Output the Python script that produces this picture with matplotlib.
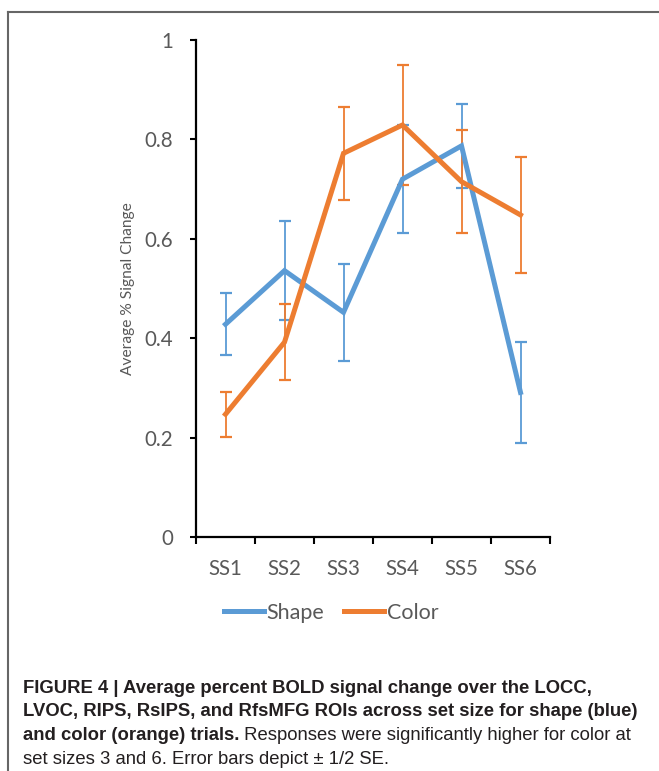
import matplotlib
matplotlib.use("Agg")
import matplotlib.pyplot as plt
from matplotlib.lines import Line2D
import numpy as np

# ---------------------------#
# Data
# ---------------------------#
set_sizes = ["SS1", "SS2", "SS3", "SS4", "SS5", "SS6"]

shape_mean = [0.428, 0.536, 0.452, 0.720, 0.787, 0.291]
shape_err = [0.062, 0.100, 0.097, 0.108, 0.085, 0.101]

color_mean = [0.247, 0.392, 0.772, 0.829, 0.715, 0.648]
color_err = [0.045, 0.077, 0.094, 0.120, 0.103, 0.117]

y_ticks = [0, 0.2, 0.4, 0.6, 0.8, 1]
y_tick_labels = ["0", "0.2", "0.4", "0.6", "0.8", "1"]

BLUE = "#5B9BD5"
ORANGE = "#ED7D31"
GREY_TEXT = "#595959"
CAP_TEXT = "#231f20"

W, H = 659, 771
fig = plt.figure(figsize=(W / 100, H / 100), dpi=100)

# axes placed in pixel terms of the reference
ax = fig.add_axes([196 / W, 1 - 537 / H, 354 / W, 497 / H])

x = np.arange(len(set_sizes))
for mean, err, col, name in [(shape_mean, shape_err, BLUE, "Shape"),
                             (color_mean, color_err, ORANGE, "Color")]:
    ax.errorbar(x, mean, yerr=err, fmt="none", ecolor=col, elinewidth=1.3,
                capsize=4.3, capthick=1.6, zorder=2)
    ax.plot(x, mean, color=col, lw=3.6, solid_joinstyle="miter", label=name, zorder=3)

ax.set_xlim(-0.5, len(set_sizes) - 0.5)
ax.set_ylim(0, 1)

ax.set_yticks(y_ticks)
ax.set_yticklabels(y_tick_labels)
ax.set_xticks(x)
ax.set_xticklabels(set_sizes)
# tick marks sit on category boundaries
ax.set_xticks(np.arange(-0.5, len(set_sizes)), minor=True)
ax.tick_params(axis="x", which="major", length=0, pad=16)
ax.tick_params(axis="x", which="minor", length=5, width=1.5, direction="out", color="black")
ax.tick_params(axis="y", length=4.5, width=1.5, direction="out", color="black", pad=12)

for lab in ax.get_xticklabels() + ax.get_yticklabels():
    lab.set_fontfamily("Lato")
    lab.set_fontsize(14.8)
    lab.set_color(GREY_TEXT)

for side in ["top", "right"]:
    ax.spines[side].set_visible(False)
for side in ["left", "bottom"]:
    ax.spines[side].set_linewidth(1.6)
    ax.spines[side].set_color("black")

ax.set_ylabel("Average % Signal Change", fontfamily="Lato", fontsize=11.2,
              color=GREY_TEXT)
ax.yaxis.set_label_coords(-0.172, 0.5)

fig.legend(loc="center", bbox_to_anchor=(331 / W, 1 - 613 / H), ncol=2, frameon=False,
           handlelength=1.85, handletextpad=0.12, columnspacing=0.95,
           prop={"family": "Lato", "size": 15.5}, labelcolor=GREY_TEXT)

# frame lines (top and left) of the figure panel
fig.add_artist(Line2D([8 / W, 1], [1 - 12 / H, 1 - 12 / H], color="#666666", lw=1.5))
fig.add_artist(Line2D([8 / W, 8 / W], [1 - 12 / H, 0], color="#666666", lw=1.5))

# ---------------------------#
# Caption
# ---------------------------#
cap_kw = dict(fontfamily="Liberation Sans", fontsize=13.3, color=CAP_TEXT, va="baseline")
x0 = 23 / W
fig.text(x0, 1 - 693 / H,
         "FIGURE 4 | Average percent BOLD signal change over the LOCC,",
         fontweight="bold", **cap_kw)
fig.text(x0, 1 - 716.5 / H,
         "LVOC, RIPS, RsIPS, and RfsMFG ROIs across set size for shape (blue)",
         fontweight="bold", **cap_kw)
bold_part = fig.text(x0, 1 - 740 / H, "and color (orange) trials.",
                     fontweight="bold", **cap_kw)

# regular text continues on the same baseline right after the bold run
fig.canvas.draw()
bb = bold_part.get_window_extent(fig.canvas.get_renderer())
fig.text(bb.x1 / W, 1 - 740 / H, " Responses were significantly higher for color at",
         **cap_kw)
fig.text(x0, 1 - 763.5 / H, "set sizes 3 and 6. Error bars depict \u00b1 1/2 SE.", **cap_kw)

fig.savefig("out.png", dpi=100)
